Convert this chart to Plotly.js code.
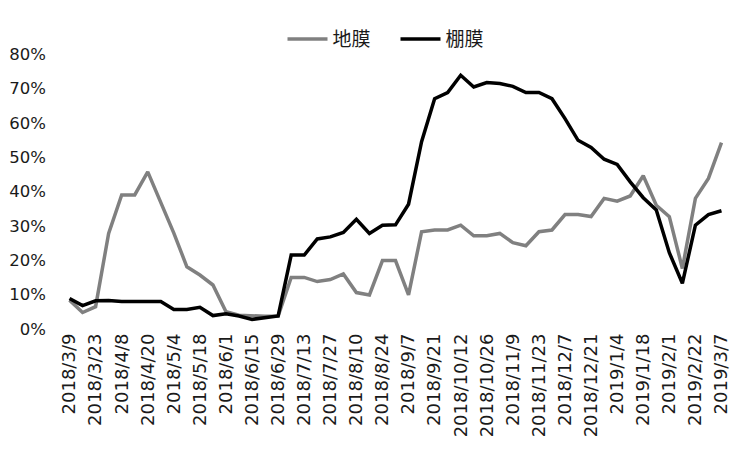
<!DOCTYPE html>
<html>
<head>
<meta charset="utf-8">
<script src="https://cdn.plot.ly/plotly-3.0.1.min.js"></script>
<style>
  html, body { margin: 0; padding: 0; background: #fff; }
  #chart { width: 750px; height: 449px; }
</style>
</head>
<body>
<div id="chart"></div>
<script>
// weekly dates, only every other one is labelled on the axis
const dates = [
  '2018/3/9', '2018/3/16', '2018/3/23', '2018/3/30', '2018/4/8', '2018/4/13',
  '2018/4/20', '2018/4/27', '2018/5/4', '2018/5/11', '2018/5/18', '2018/5/25',
  '2018/6/1', '2018/6/8', '2018/6/15', '2018/6/22', '2018/6/29', '2018/7/6',
  '2018/7/13', '2018/7/20', '2018/7/27', '2018/8/3', '2018/8/10', '2018/8/17',
  '2018/8/24', '2018/8/31', '2018/9/7', '2018/9/14', '2018/9/21', '2018/9/28',
  '2018/10/12', '2018/10/19', '2018/10/26', '2018/11/2', '2018/11/9', '2018/11/16',
  '2018/11/23', '2018/11/30', '2018/12/7', '2018/12/14', '2018/12/21', '2018/12/28',
  '2019/1/4', '2019/1/11', '2019/1/18', '2019/1/25', '2019/2/1', '2019/2/15',
  '2019/2/22', '2019/3/1', '2019/3/7',
];

// 地膜 (grey line)
const dimo = [
  0.084, 0.048, 0.065, 0.278, 0.390, 0.390, 0.457, 0.370, 0.279, 0.181,
  0.157, 0.128, 0.050, 0.040, 0.038, 0.037, 0.038, 0.150, 0.150, 0.138,
  0.144, 0.160, 0.106, 0.099, 0.199, 0.199, 0.099, 0.283, 0.288, 0.288,
  0.302, 0.271, 0.271, 0.278, 0.251, 0.242, 0.283, 0.288, 0.333, 0.333,
  0.327, 0.380, 0.372, 0.387, 0.446, 0.360, 0.327, 0.176, 0.380, 0.438,
  0.542,
];

// 棚膜 (black line)
const pengmo = [
  0.089, 0.068, 0.082, 0.083, 0.080, 0.080, 0.080, 0.080, 0.057, 0.057,
  0.063, 0.039, 0.044, 0.038, 0.028, 0.033, 0.038, 0.215, 0.215, 0.262,
  0.268, 0.281, 0.319, 0.278, 0.302, 0.303, 0.363, 0.545, 0.670, 0.688,
  0.738, 0.704, 0.717, 0.714, 0.706, 0.688, 0.688, 0.670, 0.612, 0.549,
  0.528, 0.494, 0.479, 0.428, 0.382, 0.346, 0.222, 0.133, 0.302, 0.333,
  0.344,
];

const shownTicks = dates.filter((d, i) => i % 2 === 0);

const traces = [
  {
    x: dates,
    y: dimo,
    name: '地膜',
    type: 'scatter',
    mode: 'lines',
    line: { color: '#808080', width: 3.5 },
  },
  {
    x: dates,
    y: pengmo,
    name: '棚膜',
    type: 'scatter',
    mode: 'lines',
    line: { color: '#000000', width: 3.5 },
  },
];

const layout = {
  width: 750,
  height: 449,
  margin: { l: 63, r: 22, t: 54, b: 120 },
  paper_bgcolor: '#ffffff',
  plot_bgcolor: '#ffffff',
  font: { family: 'DejaVu Sans, sans-serif', size: 16, color: '#1a1a1a' },
  showlegend: true,
  legend: {
    orientation: 'h',
    x: 0.5,
    xanchor: 'center',
    y: 0.985,
    yanchor: 'bottom',
    itemwidth: 40,
    entrywidth: 58,
    font: { family: 'Noto Sans CJK SC, sans-serif', size: 19, color: '#1a1a1a' },
  },
  xaxis: {
    type: 'category',
    range: [-0.5, dates.length - 0.5],
    tickmode: 'array',
    tickvals: shownTicks,
    ticktext: shownTicks,
    tickangle: -90,
    tickfont: { size: 18 },
    showgrid: false,
    showline: false,
    zeroline: false,
    ticks: '',
  },
  yaxis: {
    range: [0, 0.8],
    dtick: 0.1,
    tickformat: '.0%',
    tickfont: { size: 16.5 },
    showgrid: false,
    showline: false,
    zeroline: false,
    ticks: '',
    ticklabelstandoff: 16,
  },
};

Plotly.newPlot('chart', traces, layout, { displayModeBar: false, staticPlot: true });
</script>
</body>
</html>
